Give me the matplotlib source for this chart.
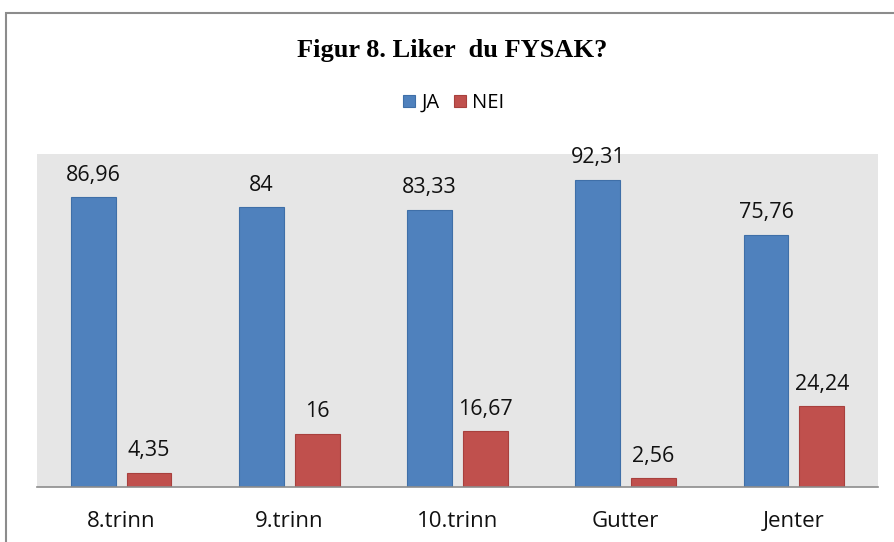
import matplotlib.pyplot as plt
from matplotlib.patches import Rectangle
import numpy as np

# Data
categories = ['8.trinn', '9.trinn', '10.trinn', 'Gutter', 'Jenter']
ja_values = [86.96, 84, 83.33, 92.31, 75.76]
nei_values = [4.35, 16, 16.67, 2.56, 24.24]
series_names = ['JA', 'NEI']

blue = '#4F81BD'
red = '#C0504D'

plt.rcParams['font.family'] = ['Open Sans', 'DejaVu Sans']

fig = plt.figure(figsize=(8.95, 5.42), dpi=100)

# outer chart frame (only left and top edges visible in the crop)
fig.patches.append(Rectangle((6 / 895, -0.1), 1.2, (542 - 13) / 542 + 0.1,
                             transform=fig.transFigure, fill=False,
                             edgecolor='#8c8c8c', linewidth=1.5))

ax = fig.add_axes([37 / 895, 55 / 542, 841 / 895, 333 / 542])
ax.set_facecolor('#E6E6E6')

x = np.arange(len(categories))
w = 0.267
off = 0.166
b1 = ax.bar(x - off, ja_values, w, color=blue, edgecolor='#3F6FA8', linewidth=0.8, label=series_names[0])
b2 = ax.bar(x + off, nei_values, w, color=red, edgecolor='#A8403D', linewidth=0.8, label=series_names[1])

def fmt(v):
    s = f'{v:.2f}'.rstrip('0').rstrip('.')
    return s.replace('.', ',')

for bars, vals in ((b1, ja_values), (b2, nei_values)):
    for rect, v in zip(bars, vals):
        ax.annotate(fmt(v), (rect.get_x() + rect.get_width() / 2, rect.get_height()),
                    xytext=(0, 12), textcoords='offset points', ha='center', va='baseline',
                    fontsize=15.5, color='#111111')

ax.set_xlim(-0.5, len(categories) - 0.5)
ax.set_ylim(0, 100)
ax.set_yticks([])
ax.set_xticks(x)
ax.set_xticklabels(categories, fontsize=16, color='#111111')
ax.tick_params(axis='x', length=0, pad=17)
for s in ('top', 'right', 'left'):
    ax.spines[s].set_visible(False)
ax.spines['bottom'].set_color('#8c8c8c')
ax.spines['bottom'].set_linewidth(1.2)

fig.text(0.5 + 5 / 895, 1 - 51 / 542, 'Figur 8. Liker  du FYSAK?', ha='center', va='center',
         fontsize=19, fontweight='bold', family='Liberation Serif')

fig.legend(handles=[b1, b2], labels=series_names, loc='center',
           bbox_to_anchor=(0.5 + 6 / 895, 1 - 103 / 542), ncol=2, frameon=False,
           fontsize=14.5, handlelength=0.6, handleheight=0.6, handletextpad=0.3,
           columnspacing=0.7)

fig.savefig('out.png', dpi=100)
